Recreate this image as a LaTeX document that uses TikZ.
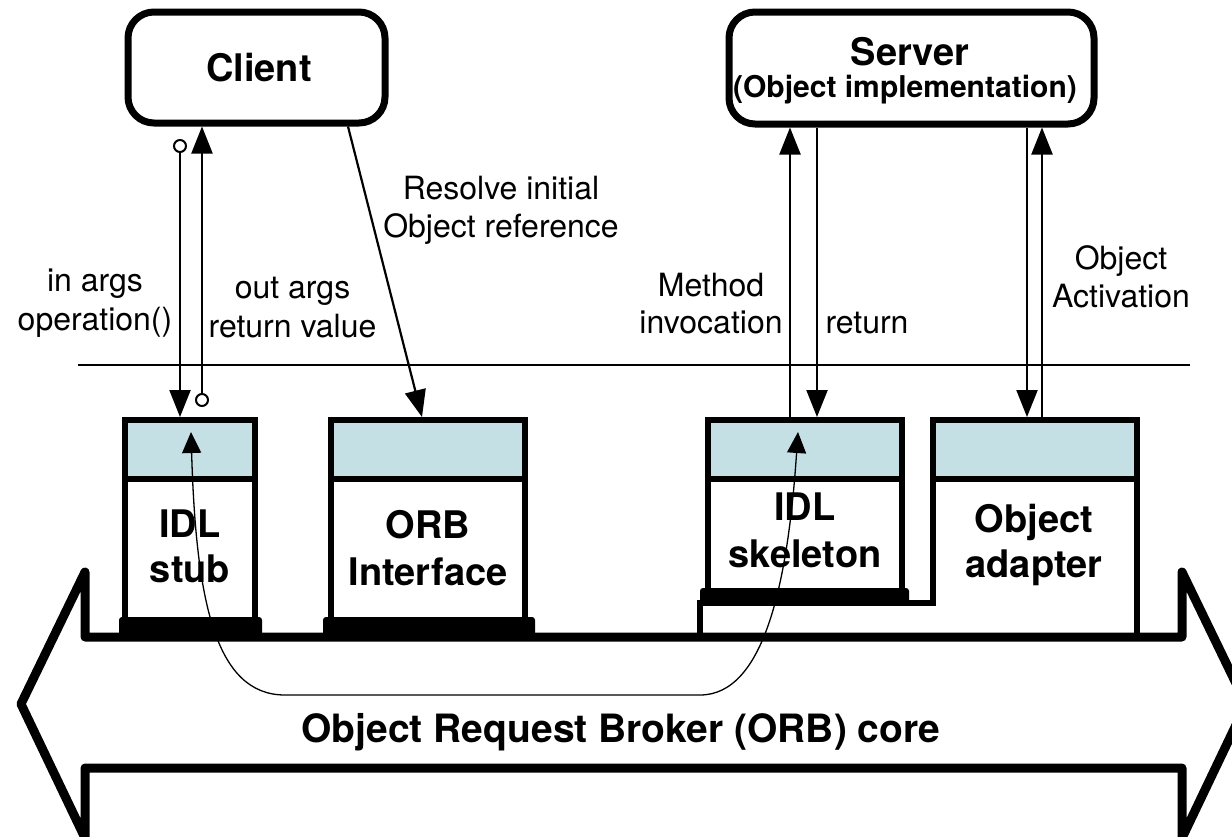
\documentclass[tikz,border=0pt]{standalone}
\usepackage{fontspec}
\setmainfont{TeX Gyre Heros}
\usetikzlibrary{arrows.meta,calc}
\definecolor{band}{RGB}{197,224,229}
\begin{document}
\begin{tikzpicture}[x=1pt,y=-1pt,
  big/.style={font=\fontsize{38}{44}\selectfont\bfseries, anchor=base, inner sep=0pt},
  sub/.style={font=\fontsize{30}{36}\selectfont\bfseries, anchor=base, inner sep=0pt},
  corelbl/.style={font=\fontsize{39}{46}\selectfont\bfseries, anchor=base, inner sep=0pt},
  lbl/.style={font=\fontsize{32}{38}\selectfont, anchor=base, inner sep=0pt},
  rbox/.style={draw, line width=7pt, rounded corners=26pt, inner sep=0pt},
  cbox/.style={draw, line width=6pt, inner sep=0pt},
  circ/.style={circle, draw, line width=2pt, fill=white, minimum size=12pt, inner sep=0pt},
  conn/.style={line width=2.2pt, -{Triangle[width=21pt,length=27pt]}},
  curvy/.style={line width=1.3pt, {Triangle[width=19pt,length=21pt]}-{Triangle[width=19pt,length=21pt]}},
  base/.style={fill=black, rounded corners=3pt},
  frame/.style={line width=6pt}
]
\useasboundingbox (0,0) rectangle (1232,836);
\clip (0,0) rectangle (1232,836);

% blue bands
\fill[band] (125,420) rectangle (255,479);
\fill[band] (331,420) rectangle (525,479);
\fill[band] (708,420) rectangle (902,479);
\fill[band] (933,420) rectangle (1137,479);

% ORB core arrow
\draw[line width=9pt, line join=round]
  (85,637) -- (1182,637) -- (1182,572) -- (1246,704) -- (1182,838) -- (1182,768)
  -- (85,768) -- (85,838) -- (21,704) -- (85,572) -- cycle;

% boxes
\node[cbox, minimum width=130pt, minimum height=205pt] (stub) at (190,522.5) {};
\node[cbox, minimum width=194pt, minimum height=205pt] (orb) at (428,522.5) {};
\node[cbox, minimum width=194pt, minimum height=176pt] (skel) at (805,508) {};
\node[inner sep=0pt, outer sep=3pt, minimum width=204pt, minimum height=183pt] (oa) at (1035,511.5) {};
\draw[frame, line join=miter] (700,637) -- (700,603) -- (933,603) -- (933,420) -- (1137,420) -- (1137,637);

% dividers
\draw[frame] (122,479) -- (258,479);
\draw[frame] (328,479) -- (528,479);
\draw[frame] (705,479) -- (905,479);
\draw[frame] (930,479) -- (1140,479);

% base bars
\fill[base] (119,617) rectangle (262,636);
\fill[base] (323,617) rectangle (535,636);
\fill[base] (700,588) rectangle (909,604);

% client / server
\node[rbox, minimum width=257pt, minimum height=111pt] (client) at (256.5,67.5) {};
\node[rbox, minimum width=365pt, minimum height=112pt] (server) at (911.5,68) {};

% separator
\draw[line width=2pt] (78,365) -- (1190,365);

% texts
\node[big] (tclient) at (259,81) {Client};
\node[big] (tserver) at (910,65) {Server};
\node[sub] (timpl) at (905,97) {(Object implementation)};
\node[big] (tidl1) at (190,537) {IDL};
\node[big] (tstub) at (190,582) {stub};
\node[big] (torb) at (428,538) {ORB};
\node[big] (tintf) at (428,585) {Interface};
\node[big] (tidl2) at (805,520) {IDL};
\node[big] (tskel) at (805,567) {skeleton};
\node[big] (tobj) at (1034,532) {Object};
\node[big] (tadap) at (1034,577) {adapter};
\node[corelbl] (tcore) at (621,742) {Object Request Broker (ORB) core};

\node[lbl] (l1) at (95,291) {in args};
\node[lbl] (l2) at (95,330) {operation()};
\node[lbl] (l3) at (292.5,298) {out args};
\node[lbl] (l4) at (292.5,337) {return value};
\node[lbl] (l5) at (501,199) {Resolve initial};
\node[lbl] (l6) at (501,237) {Object reference};
\node[lbl] (l7) at (711,296) {Method};
\node[lbl] (l8) at (711,333) {invocation};
\node[lbl] (l9) at (867,333) {return};
\node[lbl] (l10) at (1121,269) {Object};
\node[lbl] (l11) at (1121,307) {Activation};

% client arrows
\node[circ] (c1) at (180,146) {};
\node[circ] (c2) at (202,400) {};
\draw[conn] (c1) -- (c1 |- stub.north);
\draw[conn] (c2) -- (c2 |- client.south);
\draw[conn] ([xshift=91.5pt]client.south) -- ([xshift=-6pt]orb.north);

% server arrows
\draw[conn] ([xshift=-15pt]skel.north) -- ([xshift=-15pt]skel.north |- server.south);
\draw[conn] ([xshift=12pt]skel.north |- server.south) -- ([xshift=12pt]skel.north);
\draw[conn] ([xshift=-8pt]oa.north |- server.south) -- ([xshift=-8pt]oa.north);
\draw[conn] ([xshift=7pt]oa.north) -- ([xshift=7pt]oa.north |- server.south);

% stub-skeleton curve
\coordinate (ca) at (191,432);
\coordinate (cb) at (798,432);
\draw[curvy] (ca) .. controls (196,600) and (215,695) .. (285,695) -- (700,695)
  .. controls (765,695) and (788,580) .. (cb);
\end{tikzpicture}
\end{document}
